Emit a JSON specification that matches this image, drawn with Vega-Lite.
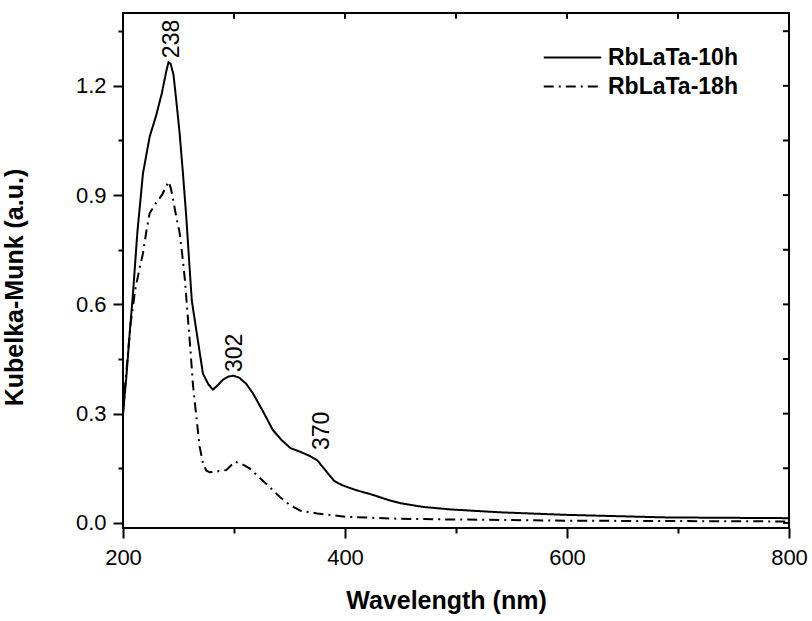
{
  "$schema": "https://vega.github.io/schema/vega-lite/v6.json",
  "width": 666,
  "height": 515,
  "autosize": {"type": "none"},
  "padding": {"left": 123, "top": 13, "right": 23, "bottom": 93},
  "background": "white",
  "config": {
    "font": "Liberation Sans",
    "view": {"stroke": "black", "strokeWidth": 2}
  },
  "datasets": {
    "spec": [
      {"wl": 200, "km": 0.30, "s": "RbLaTa-10h"},
      {"wl": 203, "km": 0.40, "s": "RbLaTa-10h"},
      {"wl": 206, "km": 0.52, "s": "RbLaTa-10h"},
      {"wl": 209, "km": 0.63, "s": "RbLaTa-10h"},
      {"wl": 213, "km": 0.80, "s": "RbLaTa-10h"},
      {"wl": 218, "km": 0.96, "s": "RbLaTa-10h"},
      {"wl": 224, "km": 1.06, "s": "RbLaTa-10h"},
      {"wl": 230, "km": 1.12, "s": "RbLaTa-10h"},
      {"wl": 235, "km": 1.18, "s": "RbLaTa-10h"},
      {"wl": 239, "km": 1.24, "s": "RbLaTa-10h"},
      {"wl": 241, "km": 1.265, "s": "RbLaTa-10h"},
      {"wl": 243, "km": 1.26, "s": "RbLaTa-10h"},
      {"wl": 245.5, "km": 1.23, "s": "RbLaTa-10h"},
      {"wl": 248, "km": 1.16, "s": "RbLaTa-10h"},
      {"wl": 251, "km": 1.07, "s": "RbLaTa-10h"},
      {"wl": 254, "km": 0.96, "s": "RbLaTa-10h"},
      {"wl": 257, "km": 0.84, "s": "RbLaTa-10h"},
      {"wl": 260, "km": 0.70, "s": "RbLaTa-10h"},
      {"wl": 262, "km": 0.61, "s": "RbLaTa-10h"},
      {"wl": 266, "km": 0.53, "s": "RbLaTa-10h"},
      {"wl": 272, "km": 0.41, "s": "RbLaTa-10h"},
      {"wl": 277, "km": 0.38, "s": "RbLaTa-10h"},
      {"wl": 281, "km": 0.366, "s": "RbLaTa-10h"},
      {"wl": 285, "km": 0.377, "s": "RbLaTa-10h"},
      {"wl": 290, "km": 0.393, "s": "RbLaTa-10h"},
      {"wl": 295, "km": 0.402, "s": "RbLaTa-10h"},
      {"wl": 300, "km": 0.404, "s": "RbLaTa-10h"},
      {"wl": 305, "km": 0.398, "s": "RbLaTa-10h"},
      {"wl": 311, "km": 0.382, "s": "RbLaTa-10h"},
      {"wl": 317, "km": 0.356, "s": "RbLaTa-10h"},
      {"wl": 326, "km": 0.307, "s": "RbLaTa-10h"},
      {"wl": 335, "km": 0.255, "s": "RbLaTa-10h"},
      {"wl": 343, "km": 0.227, "s": "RbLaTa-10h"},
      {"wl": 351, "km": 0.205, "s": "RbLaTa-10h"},
      {"wl": 360, "km": 0.195, "s": "RbLaTa-10h"},
      {"wl": 368, "km": 0.184, "s": "RbLaTa-10h"},
      {"wl": 375, "km": 0.172, "s": "RbLaTa-10h"},
      {"wl": 383, "km": 0.142, "s": "RbLaTa-10h"},
      {"wl": 390, "km": 0.116, "s": "RbLaTa-10h"},
      {"wl": 397, "km": 0.104, "s": "RbLaTa-10h"},
      {"wl": 410, "km": 0.090, "s": "RbLaTa-10h"},
      {"wl": 425, "km": 0.077, "s": "RbLaTa-10h"},
      {"wl": 440, "km": 0.062, "s": "RbLaTa-10h"},
      {"wl": 450, "km": 0.054, "s": "RbLaTa-10h"},
      {"wl": 470, "km": 0.044, "s": "RbLaTa-10h"},
      {"wl": 495, "km": 0.037, "s": "RbLaTa-10h"},
      {"wl": 540, "km": 0.029, "s": "RbLaTa-10h"},
      {"wl": 600, "km": 0.022, "s": "RbLaTa-10h"},
      {"wl": 690, "km": 0.015, "s": "RbLaTa-10h"},
      {"wl": 800, "km": 0.013, "s": "RbLaTa-10h"},
      {"wl": 200, "km": 0.30, "s": "RbLaTa-18h"},
      {"wl": 202, "km": 0.38, "s": "RbLaTa-18h"},
      {"wl": 204, "km": 0.45, "s": "RbLaTa-18h"},
      {"wl": 207, "km": 0.55, "s": "RbLaTa-18h"},
      {"wl": 211, "km": 0.64, "s": "RbLaTa-18h"},
      {"wl": 215, "km": 0.70, "s": "RbLaTa-18h"},
      {"wl": 218, "km": 0.74, "s": "RbLaTa-18h"},
      {"wl": 221, "km": 0.80, "s": "RbLaTa-18h"},
      {"wl": 224, "km": 0.85, "s": "RbLaTa-18h"},
      {"wl": 229, "km": 0.875, "s": "RbLaTa-18h"},
      {"wl": 235, "km": 0.90, "s": "RbLaTa-18h"},
      {"wl": 241, "km": 0.937, "s": "RbLaTa-18h"},
      {"wl": 243, "km": 0.92, "s": "RbLaTa-18h"},
      {"wl": 245, "km": 0.89, "s": "RbLaTa-18h"},
      {"wl": 248, "km": 0.84, "s": "RbLaTa-18h"},
      {"wl": 251, "km": 0.797, "s": "RbLaTa-18h"},
      {"wl": 254, "km": 0.72, "s": "RbLaTa-18h"},
      {"wl": 256, "km": 0.66, "s": "RbLaTa-18h"},
      {"wl": 258, "km": 0.58, "s": "RbLaTa-18h"},
      {"wl": 260.5, "km": 0.485, "s": "RbLaTa-18h"},
      {"wl": 263, "km": 0.38, "s": "RbLaTa-18h"},
      {"wl": 266.5, "km": 0.28, "s": "RbLaTa-18h"},
      {"wl": 269, "km": 0.21, "s": "RbLaTa-18h"},
      {"wl": 272, "km": 0.164, "s": "RbLaTa-18h"},
      {"wl": 275, "km": 0.144, "s": "RbLaTa-18h"},
      {"wl": 278, "km": 0.139, "s": "RbLaTa-18h"},
      {"wl": 284, "km": 0.141, "s": "RbLaTa-18h"},
      {"wl": 293, "km": 0.145, "s": "RbLaTa-18h"},
      {"wl": 297, "km": 0.157, "s": "RbLaTa-18h"},
      {"wl": 301, "km": 0.168, "s": "RbLaTa-18h"},
      {"wl": 307, "km": 0.162, "s": "RbLaTa-18h"},
      {"wl": 314, "km": 0.150, "s": "RbLaTa-18h"},
      {"wl": 323, "km": 0.124, "s": "RbLaTa-18h"},
      {"wl": 332, "km": 0.099, "s": "RbLaTa-18h"},
      {"wl": 341, "km": 0.072, "s": "RbLaTa-18h"},
      {"wl": 350, "km": 0.050, "s": "RbLaTa-18h"},
      {"wl": 360, "km": 0.033, "s": "RbLaTa-18h"},
      {"wl": 375, "km": 0.026, "s": "RbLaTa-18h"},
      {"wl": 400, "km": 0.017, "s": "RbLaTa-18h"},
      {"wl": 440, "km": 0.012, "s": "RbLaTa-18h"},
      {"wl": 480, "km": 0.010, "s": "RbLaTa-18h"},
      {"wl": 540, "km": 0.008, "s": "RbLaTa-18h"},
      {"wl": 600, "km": 0.006, "s": "RbLaTa-18h"},
      {"wl": 700, "km": 0.005, "s": "RbLaTa-18h"},
      {"wl": 800, "km": 0.004, "s": "RbLaTa-18h"}
    ],
    "peaks": [
      {"wl": 244, "km": 1.276, "t": "238"},
      {"wl": 301, "km": 0.414, "t": "302"},
      {"wl": 379.3, "km": 0.200, "t": "370"}
    ],
    "xticks": [{"wl": 200}, {"wl": 300}, {"wl": 400}, {"wl": 500}, {"wl": 600}, {"wl": 700}, {"wl": 800}],
    "yticks": [{"km": 0}, {"km": 0.15}, {"km": 0.3}, {"km": 0.45}, {"km": 0.6}, {"km": 0.75}, {"km": 0.9}, {"km": 1.05}, {"km": 1.2}, {"km": 1.35}]
  },
  "layer": [
    {
      "data": {"name": "spec"},
      "mark": {"type": "line", "strokeWidth": 2, "color": "black"},
      "encoding": {
        "x": {"field": "wl", "type": "quantitative", "scale": {"domain": [200, 800], "nice": false, "zero": false},
          "axis": {"orient": "bottom", "values": [200, 300, 400, 500, 600, 700, 800],
            "labelExpr": "datum.value % 200 == 0 ? datum.label : ''",
            "grid": false, "domain": false, "tickColor": "black", "tickWidth": 2,
            "tickSize": {"condition": {"test": "datum.value % 200 == 0", "value": 10}, "value": 5},
            "labelColor": "black", "labelFont": "Liberation Sans", "labelFontSize": 22, "labelPadding": 9, "labelFlush": false, "labelOverlap": false,
            "title": "Wavelength (nm)", "titleColor": "black", "titleFont": "Liberation Sans", "titleFontSize": 25, "titleFontWeight": "bold", "titlePadding": 20, "titleX": 323}},
        "y": {"field": "km", "type": "quantitative", "scale": {"domain": [-0.014, 1.4], "nice": false, "zero": false},
          "axis": {"orient": "left", "values": [0, 0.15, 0.3, 0.45, 0.6, 0.75, 0.9, 1.05, 1.2, 1.35],
            "labelExpr": "abs(datum.value / 0.3 - round(datum.value / 0.3)) < 0.01 ? format(datum.value, '.1f') : ''",
            "grid": false, "domain": false, "tickColor": "black", "tickWidth": 2,
            "tickSize": {"condition": {"test": "abs(datum.value / 0.3 - round(datum.value / 0.3)) < 0.01", "value": 10}, "value": 5},
            "labelColor": "black", "labelFont": "Liberation Sans", "labelFontSize": 22, "labelPadding": 7, "labelOverlap": false,
            "title": "Kubelka-Munk (a.u.)", "titleColor": "black", "titleFont": "Liberation Sans", "titleFontSize": 25, "titleFontWeight": "bold", "titlePadding": 48, "titleY": 274}},
        "strokeDash": {"field": "s", "type": "nominal",
          "scale": {"domain": ["RbLaTa-10h", "RbLaTa-18h"], "range": [[1, 0], [10, 5, 2, 5]]},
          "legend": {"orient": "none", "legendX": 437, "legendY": 32, "title": null, "symbolType": "M-2.5,0H2.5", "symbolSize": 529, "symbolStrokeWidth": 2, "symbolStrokeColor": "black", "symbolFillColor": "transparent", "labelFont": "Liberation Sans", "labelFontSize": 23, "labelFontWeight": "bold", "labelColor": "black", "labelOffset": 23, "labelLimit": 0, "rowPadding": 4}}
      }
    },
    {
      "data": {"name": "xticks"},
      "mark": {"type": "rule", "color": "black", "strokeWidth": 2},
      "encoding": {
        "x": {"field": "wl", "type": "quantitative"},
        "y": {"datum": 1.4, "type": "quantitative"},
        "y2": {"datum": 1.384}
      }
    },
    {
      "data": {"name": "yticks"},
      "mark": {"type": "rule", "color": "black", "strokeWidth": 2},
      "encoding": {
        "y": {"field": "km", "type": "quantitative"},
        "x": {"datum": 800, "type": "quantitative"},
        "x2": {"datum": 794.6}
      }
    },
    {
      "data": {"name": "peaks"},
      "mark": {"type": "text", "angle": 270, "align": "left", "baseline": "middle", "fontSize": 23, "color": "black", "font": "Liberation Sans"},
      "encoding": {
        "x": {"field": "wl", "type": "quantitative"},
        "y": {"field": "km", "type": "quantitative"},
        "text": {"field": "t"}
      }
    }
  ]
}
